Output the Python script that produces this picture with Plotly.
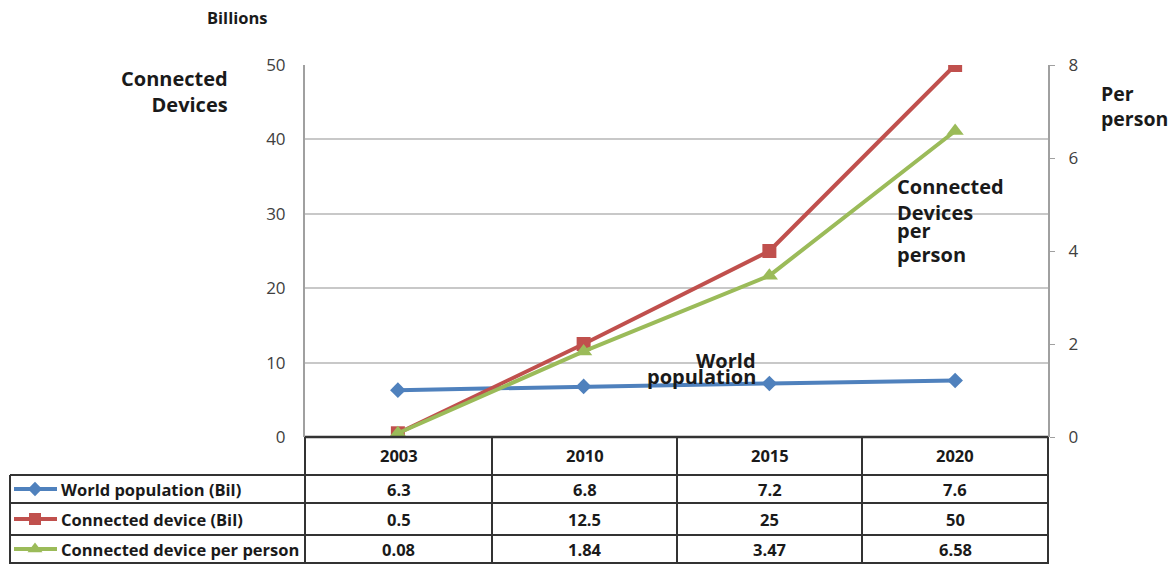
import plotly.graph_objects as go

W, H = 1176, 564

years = ["2003", "2010", "2015", "2020"]
world_pop = [6.3, 6.8, 7.2, 7.6]
devices = [0.5, 12.5, 25, 50]
per_person = [0.08, 1.84, 3.47, 6.58]
series_names = ["World population (Bil)", "Connected device (Bil)", "Connected device per person"]
left_ticks = [0, 10, 20, 30, 40, 50]
right_ticks = [0, 2, 4, 6, 8]

BLUE = "#4F81BD"
RED = "#C0504D"
GREEN = "#9BBB59"
FONT = "Open Sans"
TXT = "#1a1a1a"


def px(x):
    return x / W


def py(y):
    return 1 - y / H


x_idx = list(range(len(years)))
fig = go.Figure()

fig.add_trace(go.Scatter(x=x_idx, y=world_pop, mode="lines+markers", name=series_names[0],
                         line=dict(color=BLUE, width=4),
                         marker=dict(symbol="diamond", size=12, color=BLUE),
                         xaxis="x", yaxis="y", showlegend=False))
fig.add_trace(go.Scatter(x=x_idx, y=devices, mode="lines+markers", name=series_names[1],
                         line=dict(color=RED, width=4),
                         marker=dict(symbol="square", size=14, color=RED),
                         xaxis="x", yaxis="y", showlegend=False))
fig.add_trace(go.Scatter(x=x_idx, y=per_person, mode="lines+markers", name=series_names[2],
                         line=dict(color=GREEN, width=4),
                         marker=dict(symbol="triangle-up", size=15, color=GREEN),
                         xaxis="x", yaxis="y2", showlegend=False))

# Table geometry (pixels)
col_edges = [305, 492, 677, 862, 1048]
row_edges = [437, 475, 503, 535, 563]
label_left = 10

shapes = []
LC = "#333333"
shapes.append(dict(type="line", xref="paper", yref="paper", x0=px(305), x1=px(1048),
                   y0=py(437), y1=py(437), line=dict(color=LC, width=2.5)))
for yv in row_edges[1:]:
    shapes.append(dict(type="line", xref="paper", yref="paper", x0=px(label_left), x1=px(1048),
                       y0=py(yv), y1=py(yv), line=dict(color=LC, width=2)))
for xv in col_edges:
    shapes.append(dict(type="line", xref="paper", yref="paper", x0=px(xv), x1=px(xv),
                       y0=py(437), y1=py(564), line=dict(color=LC, width=2)))
shapes.append(dict(type="line", xref="paper", yref="paper", x0=px(label_left), x1=px(label_left),
                   y0=py(475), y1=py(564), line=dict(color=LC, width=2)))

key_specs = [(BLUE, "diamond", 11), (RED, "square", 12), (GREEN, "triangle-up", 13)]
for i, (c, sym, sz) in enumerate(key_specs):
    yc = (row_edges[i + 1] + row_edges[i + 2]) / 2
    shapes.append(dict(type="line", xref="paper", yref="paper", x0=px(14), x1=px(57),
                       y0=py(yc), y1=py(yc), line=dict(color=c, width=4)))
    fig.add_trace(go.Scatter(x=[px(35)], y=[py(yc)], mode="markers",
                             marker=dict(symbol=sym, size=sz, color=c), xaxis="x3", yaxis="y3",
                             showlegend=False, hoverinfo="skip"))

ann = []
tf = dict(family=FONT, size=16.5, color=TXT, weight="bold")
for j, yr in enumerate(years):
    xc = (col_edges[j] + col_edges[j + 1]) / 2
    ann.append(dict(x=px(xc), y=py((row_edges[0] + row_edges[1]) / 2), text=yr, font=tf,
                    xanchor="center"))
rows = [world_pop, devices, per_person]
for i, vals in enumerate(rows):
    yc = (row_edges[i + 1] + row_edges[i + 2]) / 2
    ann.append(dict(x=px(59), y=py(yc), text=series_names[i], xanchor="left", font=tf))
    for j, v in enumerate(vals):
        xc = (col_edges[j] + col_edges[j + 1]) / 2
        ann.append(dict(x=px(xc), y=py(yc), text=f"{v:g}", font=tf, xanchor="center"))

bf = lambda s: dict(family=FONT, size=s, color=TXT, weight="bold")
ann += [
    dict(x=px(237), y=py(18), text="Billions", font=bf(16.5), xanchor="center"),
    dict(x=px(230), y=py(91), text="Connected<br>Devices", font=bf(20), xanchor="right", align="right"),
    dict(x=px(1099), y=py(106), text="Per<br>person", font=bf(19.5), xanchor="left", align="left"),
    dict(x=px(758), y=py(360), text="World", font=bf(20), xanchor="right"),
    dict(x=px(758), y=py(376), text="population", font=bf(20), xanchor="right"),
    dict(x=px(895), y=py(187), text="Connected", font=bf(20), xanchor="left"),
    dict(x=px(895), y=py(213), text="Devices", font=bf(20), xanchor="left"),
    dict(x=px(895), y=py(230), text="per", font=bf(20), xanchor="left"),
    dict(x=px(895), y=py(254), text="person", font=bf(20), xanchor="left"),
]
for a in ann:
    a["xref"] = "paper"
    a["yref"] = "paper"
    a["showarrow"] = False
    a["yanchor"] = "middle"

GRID = "#c8c8c8"
fig.update_layout(
    width=W, height=H, margin=dict(l=0, r=0, t=0, b=0, pad=0, autoexpand=False),
    paper_bgcolor="white", plot_bgcolor="rgba(0,0,0,0)",
    font=dict(family=FONT, color="#444"),
    xaxis=dict(domain=[px(305), px(1048)], range=[-0.5, 3.5], showgrid=False, zeroline=False,
               showticklabels=False, showline=False, fixedrange=True),
    yaxis=dict(domain=[py(437), py(65)], range=[0, 50], tickvals=left_ticks,
               showgrid=True, gridcolor=GRID, gridwidth=1.5, zeroline=False,
               showline=True, linecolor="#a0a0a0", linewidth=2,
               tickfont=dict(family=FONT, size=17, color="#404040"), ticklabelstandoff=14),
    yaxis2=dict(overlaying="y", side="right", anchor="x", range=[0, 8], tickvals=right_ticks,
                showgrid=False, zeroline=False, showline=True, linecolor="#a0a0a0", linewidth=2,
                ticks="outside", ticklen=5, tickcolor="#a0a0a0",
                tickfont=dict(family=FONT, size=17, color="#404040"), ticklabelstandoff=10),
    xaxis3=dict(domain=[0, 1], range=[0, 1], visible=False, anchor="y3", fixedrange=True),
    yaxis3=dict(domain=[0, 1], range=[0, 1], visible=False, anchor="x3", fixedrange=True),
    shapes=shapes, annotations=ann,
)

fig.write_html("out.html")
